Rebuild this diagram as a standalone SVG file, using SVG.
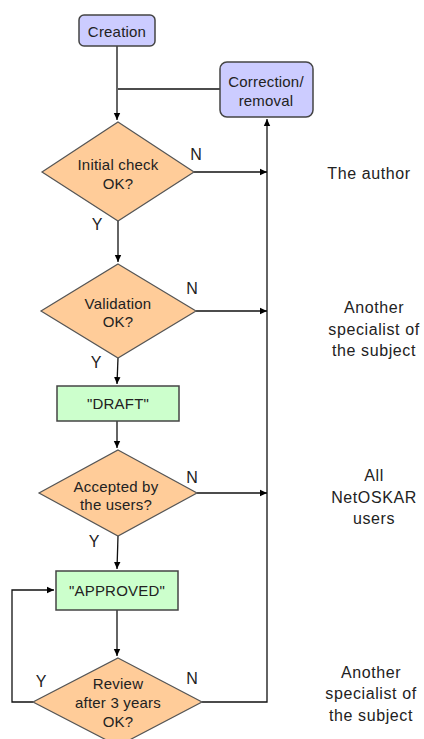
<svg xmlns="http://www.w3.org/2000/svg" width="424" height="739" viewBox="0 0 424 739">
<defs>
<marker id="ah" markerWidth="8" markerHeight="8" refX="7" refY="4" orient="auto" markerUnits="userSpaceOnUse">
<path d="M0,0.8 L7,4 L0,7.2 Z" fill="#000"/>
</marker>
<style>
.t{font-family:"Liberation Sans",Arial,sans-serif;font-size:15px;letter-spacing:0.2px;fill:#222;text-anchor:middle}
.lab{font-family:"Liberation Sans",Arial,sans-serif;font-size:16px;letter-spacing:0.6px;fill:#222;text-anchor:middle}
.yn{font-family:"Liberation Sans",Arial,sans-serif;font-size:16px;fill:#222;text-anchor:middle}
.blue{fill:#CCCCFF;stroke:#444;stroke-width:1.5}
.green{fill:#CCFFCC;stroke:#444;stroke-width:1.5}
.dia{fill:#FFCC99;stroke:#555;stroke-width:1.2}
.c{fill:none;stroke:#111;stroke-width:1.3}
</style>
</defs>
<rect width="424" height="739" fill="#fff"/>
<g id="connectors">
<path class="c" d="M117,46 V120" marker-end="url(#ah)"/>
<path class="c" d="M220,89 H118"/>
<path class="c" d="M194,172 H267" marker-end="url(#ah)"/>
<path class="c" d="M118,221 V262" marker-end="url(#ah)"/>
<path class="c" d="M196,311 H267" marker-end="url(#ah)"/>
<path class="c" d="M118,358 L117,384" marker-end="url(#ah)"/>
<path class="c" d="M117,421 V448" marker-end="url(#ah)"/>
<path class="c" d="M197,493 H267" marker-end="url(#ah)"/>
<path class="c" d="M118,536 L117,569" marker-end="url(#ah)"/>
<path class="c" d="M117,610 V656" marker-end="url(#ah)"/>
<path class="c" d="M33,702 H12 V590 H54" marker-end="url(#ah)"/>
<path class="c" d="M202,702 H267 V119" marker-end="url(#ah)"/>
<text class="yn" x="196" y="160">N</text>
<text class="yn" x="97" y="230">Y</text>
<text class="yn" x="192" y="294">N</text>
<text class="yn" x="96" y="368">Y</text>
<text class="yn" x="192" y="483">N</text>
<text class="yn" x="94" y="547">Y</text>
<text class="yn" x="41" y="687">Y</text>
<text class="yn" x="192" y="684">N</text>
</g>
<g id="creation">
<rect class="blue" x="79" y="15" width="76" height="31" rx="5"/>
<text class="t" x="117" y="37">Creation</text>
</g>
<g id="correction">
<rect class="blue" x="220" y="62" width="93" height="55" rx="7"/>
<text class="t" x="266" y="87">Correction/</text>
<text class="t" x="266" y="106">removal</text>
</g>
<g id="initial-check">
<polygon class="dia" points="118,122 194,172 118,221 42,172"/>
<text class="t" x="118" y="170">Initial check</text>
<text class="t" x="118" y="189">OK?</text>
</g>
<g id="validation">
<polygon class="dia" points="118,264 196,311 118,358 41,311"/>
<text class="t" x="118" y="309">Validation</text>
<text class="t" x="118" y="327">OK?</text>
</g>
<g id="draft">
<rect class="green" x="57" y="386" width="122" height="35"/>
<text class="t" x="118" y="409">"DRAFT"</text>
</g>
<g id="accepted">
<polygon class="dia" points="118,450 197,493 118,536 39,493"/>
<text class="t" x="116" y="492">Accepted by</text>
<text class="t" x="116" y="510">the users?</text>
</g>
<g id="approved">
<rect class="green" x="56" y="571" width="122" height="39"/>
<text class="t" x="117" y="596">"APPROVED"</text>
</g>
<g id="review">
<polygon class="dia" points="118,658 202,702 118,746 33,702"/>
<text class="t" x="118" y="689">Review</text>
<text class="t" x="118" y="708">after 3 years</text>
<text class="t" x="118" y="727">OK?</text>
</g>
<g id="roles">
<text class="lab" x="369" y="179">The author</text>
<text class="lab" x="374" y="313">Another</text>
<text class="lab" x="374" y="335">specialist of</text>
<text class="lab" x="374" y="356">the subject</text>
<text class="lab" x="374" y="481">All</text>
<text class="lab" x="374" y="503">NetOSKAR</text>
<text class="lab" x="374" y="524">users</text>
<text class="lab" x="371" y="678">Another</text>
<text class="lab" x="371" y="699">specialist of</text>
<text class="lab" x="371" y="721">the subject</text>
</g>
</svg>
